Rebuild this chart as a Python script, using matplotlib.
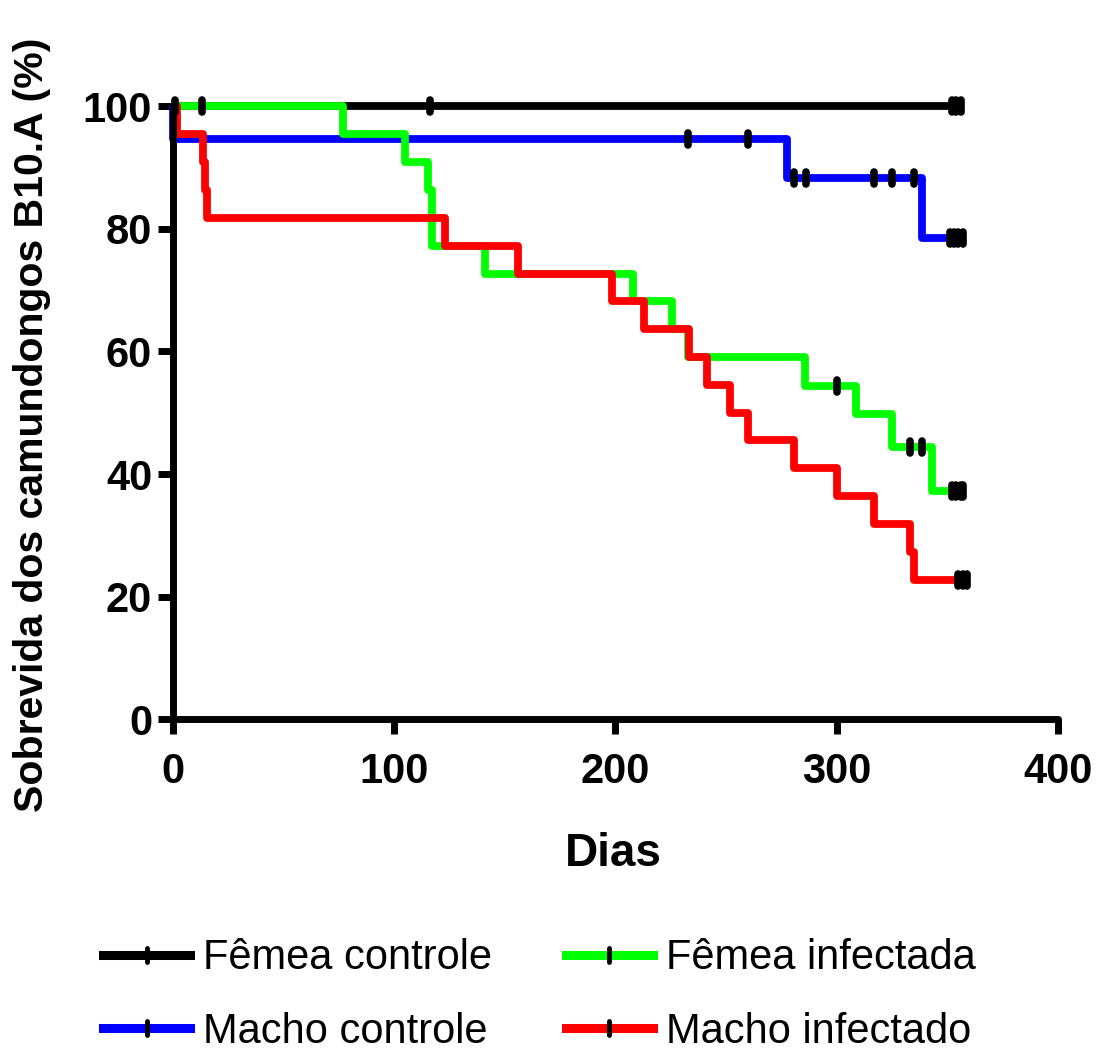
import numpy as np
import matplotlib
matplotlib.use("Agg")
import matplotlib.pyplot as plt
from matplotlib.lines import Line2D
from matplotlib.markers import MarkerStyle

plt.rcParams['font.family'] = ['Liberation Sans', 'DejaVu Sans']

# Kaplan-Meier steps (days, survival %)
femea_ctrl_t = [0, 356]
femea_ctrl_s = [100, 100]
femea_ctrl_cens = [1, 13, 116, 352, 354, 356]

macho_ctrl_t = [0, 0, 277.5, 338.5, 358]
macho_ctrl_s = [100, 94.7, 88.3, 78.6, 78.6]
macho_ctrl_cens = [232.8, 259.9, 280.9, 286.3, 316.8, 325, 334.9, 351, 353, 355, 357]

femea_inf_t = [0, 76.7, 104.9, 115.3, 117, 141, 207.9, 225.5, 232.8, 285.6, 308.7, 325, 343, 357]
femea_inf_s = [100, 95.5, 90.9, 86.4, 77.3, 72.7, 68.2, 63.6, 59.1, 54.4, 49.8, 44.4, 37.2, 37.2]
femea_inf_cens = [300, 333, 338.5, 352, 354, 356, 357]

macho_inf_t = [0, 2, 13.5, 14.5, 15.5, 123, 156, 198.4, 213, 233.2, 241.4, 251.8, 259.9,
               280.9, 300.1, 316.8, 333.1, 334.9, 359]
macho_inf_s = [100, 95.5, 90.9, 86.4, 81.8, 77.3, 72.7, 68.2, 63.6, 59.1, 54.5, 50.0, 45.5,
               40.9, 36.4, 31.8, 27.3, 22.7, 22.7]
macho_inf_cens = [355, 357, 359]

groups = [
    ("Fêmea controle", femea_ctrl_t, femea_ctrl_s, femea_ctrl_cens, "black"),
    ("Macho controle", macho_ctrl_t, macho_ctrl_s, macho_ctrl_cens, "#0000ff"),
    ("Fêmea infectada", femea_inf_t, femea_inf_s, femea_inf_cens, "#00ff00"),
    ("Macho infectado", macho_inf_t, macho_inf_s, macho_inf_cens, "#ff0000"),
]

def surv_at(t, times, surv):
    idx = np.searchsorted(times, t, side='right') - 1
    return np.asarray(surv)[idx]

fig = plt.figure(figsize=(10.99, 10.52), dpi=100)
ax = fig.add_axes([0.1574, 0.3165, 0.8053, 0.5823])

tick_mark = MarkerStyle('|', capstyle='round')

for label, t, s, cens, col in groups:
    ax.plot(t, s, drawstyle='steps-post', color=col, lw=5.6,
            solid_joinstyle='round', solid_capstyle='butt', clip_on=False, zorder=3)

for label, t, s, cens, col in groups:
    cy = [surv_at(c, t, s) for c in cens]
    ax.plot(cens, cy, ls='none', marker=tick_mark, ms=8, mew=5.5,
            color='black', clip_on=False, zorder=4)

ax.set_xlim(0, 400)
ax.set_ylim(0, 100)
ax.set_xticks([0, 100, 200, 300, 400])
ax.set_yticks([0, 20, 40, 60, 80, 100])

for side in ['top', 'right']:
    ax.spines[side].set_visible(False)
for side in ['left', 'bottom']:
    ax.spines[side].set_linewidth(5)
    ax.spines[side].set_capstyle('round')
    ax.spines[side].set_zorder(5)

ax.tick_params(direction='out', length=11, width=5, labelsize=30)
ax.tick_params(axis='x', pad=13)
ax.tick_params(axis='y', pad=4)
for lab in ax.get_xticklabels() + ax.get_yticklabels():
    lab.set_fontweight('bold')

ax.set_xlabel("Dias", fontsize=33, fontweight='bold')
ax.set_ylabel("Sobrevida dos camundongos B10.A (%)", fontsize=29.5, fontweight='bold')
ax.xaxis.set_label_coords(0.497, -0.185)
ax.yaxis.set_label_coords(-0.138, 0.48)

# legend proxies: line with a censor tick in the middle
leg_mark = MarkerStyle('|', capstyle='round')
handles = [Line2D([], [], color=col, lw=6.5, marker=leg_mark, ms=10, mew=3.5,
                  markeredgecolor='black') for _, _, _, _, col in groups]
labels = [g[0] for g in groups]
fig.legend(handles, labels, ncol=2, loc='upper left', bbox_to_anchor=(0.0937, 0.108),
           frameon=False, fontsize=30, handlelength=2.09, handletextpad=0.31,
           columnspacing=1.77, labelspacing=0.8, borderpad=0, borderaxespad=0)

fig.savefig('out.png', dpi=100)
